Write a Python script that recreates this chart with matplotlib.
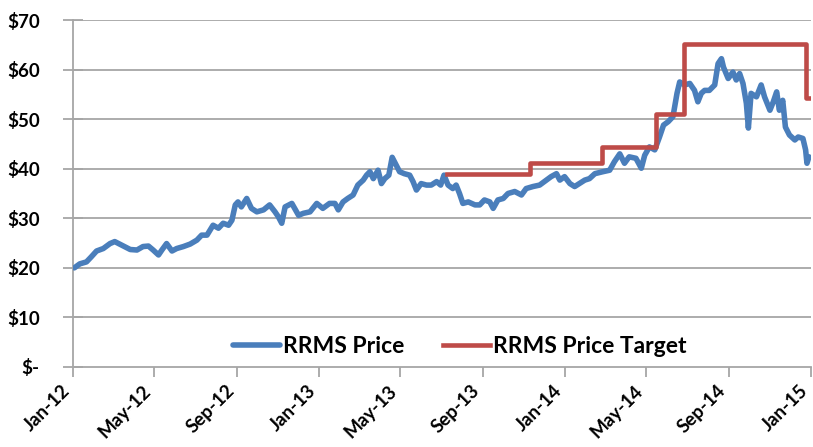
import matplotlib
matplotlib.use("Agg")
import matplotlib.pyplot as plt
import pandas as pd

price_dates = [
    "2012-01-03", "2012-01-11", "2012-01-21", "2012-01-28", "2012-02-05", "2012-02-15", "2012-02-25",
    "2012-03-03", "2012-03-13", "2012-03-26", "2012-04-05", "2012-04-14", "2012-04-22", "2012-04-29",
    "2012-05-07", "2012-05-12", "2012-05-19", "2012-05-27", "2012-06-03", "2012-06-13", "2012-06-23",
    "2012-07-03", "2012-07-10", "2012-07-18", "2012-07-27", "2012-08-04", "2012-08-11", "2012-08-19",
    "2012-08-24", "2012-08-29", "2012-09-02", "2012-09-07", "2012-09-15", "2012-09-22", "2012-09-30",
    "2012-10-10", "2012-10-19", "2012-10-27", "2012-11-01", "2012-11-06", "2012-11-11", "2012-11-21",
    "2012-12-01", "2012-12-08", "2012-12-18", "2012-12-28", "2013-01-06", "2013-01-16", "2013-01-24",
    "2013-01-29", "2013-02-05", "2013-02-12", "2013-02-20", "2013-02-27", "2013-03-07", "2013-03-12",
    "2013-03-17", "2013-03-22", "2013-03-29", "2013-04-03", "2013-04-08", "2013-04-14", "2013-04-19",
    "2013-04-25", "2013-04-30", "2013-05-07", "2013-05-15", "2013-05-20", "2013-05-25", "2013-06-01",
    "2013-06-09", "2013-06-16", "2013-06-24", "2013-06-30", "2013-07-05", "2013-07-11", "2013-07-18",
    "2013-07-23", "2013-07-28", "2013-08-02", "2013-08-10", "2013-08-20", "2013-08-27", "2013-09-03",
    "2013-09-11", "2013-09-16", "2013-09-23", "2013-10-01", "2013-10-08", "2013-10-18", "2013-10-28",
    "2013-11-04", "2013-11-14", "2013-11-24", "2013-12-04", "2013-12-11", "2013-12-19", "2013-12-24",
    "2013-12-31", "2014-01-08", "2014-01-15", "2014-01-22", "2014-01-30", "2014-02-06", "2014-02-14",
    "2014-02-26", "2014-03-08", "2014-03-15", "2014-03-23", "2014-03-30", "2014-04-06", "2014-04-16",
    "2014-04-24", "2014-04-29", "2014-05-06", "2014-05-14", "2014-05-21", "2014-05-27", "2014-06-03",
    "2014-06-10", "2014-06-13", "2014-06-16", "2014-06-20", "2014-06-27", "2014-07-05", "2014-07-12",
    "2014-07-17", "2014-07-22", "2014-07-27", "2014-08-03", "2014-08-11", "2014-08-16", "2014-08-21",
    "2014-08-24", "2014-08-31", "2014-09-07", "2014-09-12", "2014-09-17", "2014-09-22", "2014-09-27",
    "2014-09-30", "2014-10-04", "2014-10-12", "2014-10-19", "2014-10-24", "2014-11-01", "2014-11-06",
    "2014-11-11", "2014-11-15", "2014-11-20", "2014-11-24", "2014-11-30", "2014-12-08", "2014-12-13",
    "2014-12-20", "2014-12-24", "2014-12-26", "2014-12-29",
]
price_values = [
    20.0, 20.8, 21.2, 22.2, 23.4, 23.9, 24.9,
    25.3, 24.6, 23.7, 23.6, 24.3, 24.4, 23.6,
    22.6, 23.6, 24.9, 23.4, 23.9, 24.3, 24.8,
    25.6, 26.6, 26.6, 28.6, 28.0, 29.0, 28.6,
    29.6, 32.7, 33.3, 32.3, 34.0, 32.0, 31.3,
    31.7, 32.7, 31.3, 30.3, 29.0, 32.3, 33.0,
    30.6, 31.0, 31.3, 33.0, 32.0, 33.0, 33.0,
    31.7, 33.3, 34.0, 34.7, 36.7, 37.7, 38.7,
    39.4, 38.0, 39.7, 37.0, 38.0, 38.7, 42.3,
    40.7, 39.4, 39.0, 38.7, 37.4, 35.7, 37.0,
    36.7, 36.7, 37.4, 36.7, 38.7, 36.7, 36.0,
    36.7, 35.0, 33.0, 33.3, 32.7, 32.7, 33.7,
    33.3, 32.0, 33.7, 34.0, 35.0, 35.4, 34.7,
    36.0, 36.4, 36.7, 37.7, 38.4, 39.0, 37.7,
    38.4, 37.0, 36.4, 37.0, 37.7, 38.0, 39.0,
    39.4, 39.7, 41.4, 43.0, 41.1, 42.4, 42.1,
    40.1, 42.7, 44.4, 43.8, 46.4, 48.8, 49.5,
    50.5, 52.8, 55.2, 57.5, 56.9, 57.2, 55.8,
    53.5, 55.2, 55.8, 55.8, 56.9, 61.2, 62.2,
    60.5, 58.2, 59.5, 57.9, 59.2, 57.2, 53.2,
    48.2, 55.2, 54.5, 56.9, 54.5, 51.8, 53.5,
    55.5, 51.8, 53.8, 48.4, 46.8, 45.8, 46.4,
    46.1, 43.8, 41.1, 42.4,
]

target_dates = ["2013-07-10", "2013-11-09", "2014-02-25", "2014-05-16", "2014-06-27", "2014-12-25", "2014-12-31"]
target_values = [38.9, 41.2, 44.3, 51.1, 65.1, 54.2, 54.2]

tick_dates = ["2012-01-01", "2012-05-01", "2012-09-01", "2013-01-01", "2013-05-01",
              "2013-09-01", "2014-01-01", "2014-05-01", "2014-09-01", "2015-01-01"]
tick_labels = ["Jan-12", "May-12", "Sep-12", "Jan-13", "May-13",
               "Sep-13", "Jan-14", "May-14", "Sep-14", "Jan-15"]
y_ticks = [0, 10, 20, 30, 40, 50, 60, 70]
y_labels = ["$-", "$10", "$20", "$30", "$40", "$50", "$60", "$70"]

plt.rcParams['font.family'] = ['Lato', 'DejaVu Sans']

fig = plt.figure(figsize=(8.13, 4.47), dpi=100)
ax = fig.add_axes([73/813, 80/447, 738/813, 347/447])

blue = "#4A7EBB"
red = "#BE4B48"
grid = "#A6A6A6"

px = pd.to_datetime(price_dates)
tx = pd.to_datetime(target_dates)
tk = pd.to_datetime(tick_dates)

ax.plot(px, price_values, color=blue, lw=4.0, solid_joinstyle="round", solid_capstyle="round",
        label="RRMS Price", zorder=3)
ax.step(tx, target_values, where="post", color=red, lw=3.3, label="RRMS Price Target", zorder=4)

ax.set_xlim(pd.Timestamp("2012-01-01"), pd.Timestamp("2015-01-01"))
ax.set_ylim(0, 70)
ax.set_yticks(y_ticks)
ax.set_yticklabels(y_labels, fontsize=13.5, fontweight="bold")
ax.set_xticks(tk)
ax.set_xticklabels([""] * len(tk))

for d, lab in zip(tk, tick_labels):
    ax.annotate(lab, xy=(d, 0), xycoords=("data", "axes fraction"),
                xytext=(-6, -21), textcoords="offset pixels",
                rotation=45, ha="right", va="center", rotation_mode="anchor",
                fontsize=13.5, fontweight="bold", annotation_clip=False)

for y in y_ticks[1:]:
    ax.axhline(y, color=grid, lw=1.3, zorder=1)

for s in ["top", "right"]:
    ax.spines[s].set_visible(False)
for s in ["left", "bottom"]:
    ax.spines[s].set_color(grid)
    ax.spines[s].set_linewidth(1.3)
ax.tick_params(axis="y", colors=grid, direction="inout", length=14, width=1.3,
               labelcolor="black", pad=17)
ax.tick_params(axis="x", colors=grid, direction="out", length=7, width=1.3)

leg = ax.legend(loc="center", bbox_to_anchor=(0.524, 0.058), ncol=2, frameon=False,
                prop={"weight": "bold", "size": 16.5}, handlelength=2.05, columnspacing=1.66,
                handletextpad=0.15)

fig.savefig("out.png", dpi=100)
